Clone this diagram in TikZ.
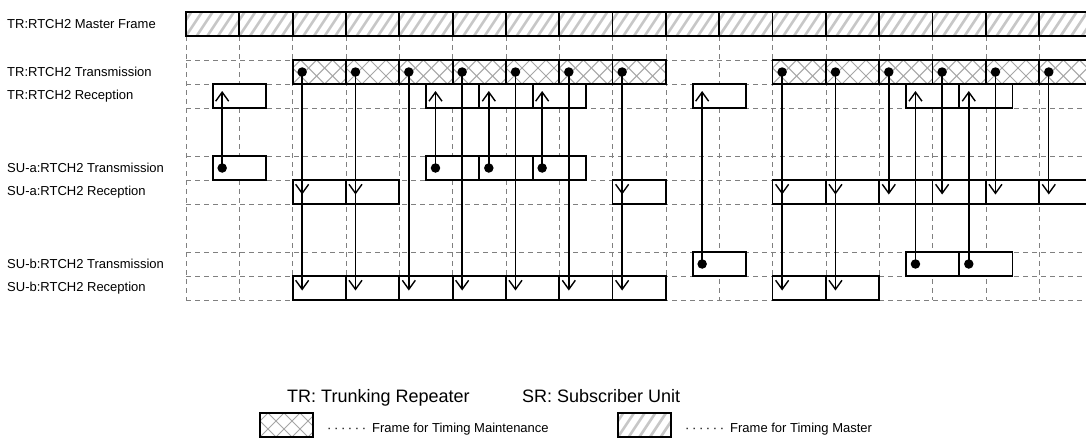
\documentclass[tikz,border=0pt]{standalone}
\usepackage{fontspec}
\setmainfont{Liberation Sans}
\usetikzlibrary{arrows.meta,calc}

\begin{document}
\begin{tikzpicture}[x=1pt, y=-1pt,
    cell/.style={
        rectangle, draw=black, line width=1.7pt, fill=white,
        minimum width=53.33pt, minimum height=24pt,
        inner sep=0pt, outer sep=0pt, anchor=north west
    },
    master/.style={cell, path picture={
        \foreach \i in {-2,...,6}
            \draw[line width=2.6pt, black!22]
                ($(path picture bounding box.south west)+(\i*10.67,0)$) -- ++(16,-24);
    }},
    maint/.style={cell, path picture={
        \foreach \i in {-2,...,5} {
            \draw[line width=1pt, black!35]
                ($(path picture bounding box.south west)+(\i*16,0)$) -- ++(24,-24);
            \draw[line width=1pt, black!35]
                ($(path picture bounding box.south west)+(\i*16,0)$) -- ++(-24,-24);
        }
    }},
    grid/.style={dash pattern=on 5pt off 4pt, line width=0.9pt, black!50},
    rowlabel/.style={anchor=base west, inner sep=0pt, font=\fontsize{13}{15}\selectfont},
    keytitle/.style={anchor=base west, inner sep=0pt, font=\fontsize{18}{20}\selectfont},
    keytext/.style={anchor=base west, inner sep=0pt, font=\fontsize{13}{15}\selectfont},
    dot/.style={circle, fill=black, inner sep=0pt, minimum size=9.5pt},
    link/.style={line width=1.4pt, -{Straight Barb[length=9pt,width=13pt,line width=1.4pt]}}
]
\useasboundingbox (0,0) rectangle (1086,439);
\clip (0,0) rectangle (1086,439);

% Timing grid
\foreach \c in {0,...,17}
    \draw[grid] (186+\c*53.33,36) -- (186+\c*53.33,300);
\foreach \y in {60,84,108,156,180,204,252,276,300}
    \draw[grid] (186,\y) -- (1086,\y);

% Master frame
\foreach \c in {0,...,16}
    \node[master] (mf-\c) at (186+\c*53.33,12) {};

% TR rows
\foreach \c in {2,3,4,5,6,7,8,11,12,13,14,15,16} {
    \node[maint] (trtx-\c) at (186+\c*53.33,60) {};
    \node[dot] (trd-\c) at ($(trtx-\c.west)+(9.5,0)$) {};
}
\foreach \c in {0,4,5,6,9,13,14}
    \node[cell] (trrx-\c) at (186+\c*53.33+26.67,84) {};

% SU-a rows
\foreach \c in {0,4,5,6} {
    \node[cell] (satx-\c) at (186+\c*53.33+26.67,156) {};
    \node[dot] (sad-\c) at ($(satx-\c.west)+(9.5,0)$) {};
}
\foreach \c in {2,3,8,11,12,13,14,15,16}
    \node[cell] (sarx-\c) at (186+\c*53.33,180) {};

% SU-b rows
\foreach \c in {9,13,14} {
    \node[cell] (sbtx-\c) at (186+\c*53.33+26.67,252) {};
    \node[dot] (sbd-\c) at ($(sbtx-\c.west)+(9.5,0)$) {};
}
\foreach \c in {2,3,4,5,6,7,8,11,12}
    \node[cell] (sbrx-\c) at (186+\c*53.33,276) {};

% Uplinks
\foreach \c in {0,4,5,6}
    \draw[link] (sad-\c.center) -- ($(trrx-\c.north west)+(9.5,7)$);
\foreach \c in {9,13,14}
    \draw[link] (sbd-\c.center) -- ($(trrx-\c.north west)+(9.5,7)$);

% Downlinks
\foreach \c in {2,3,8,11,12,13,14,15,16}
    \draw[link] (trd-\c.center) -- ($(sarx-\c.north west)+(9.5,14.5)$);
\foreach \c in {2,3,4,5,6,7,8,11,12}
    \draw[link] (trd-\c.center) -- ($(sbrx-\c.north west)+(9.5,14.5)$);

% Row labels
\node[rowlabel] (lb-mf) at (7,28.6) {TR:RTCH2 Master Frame};
\node[rowlabel] (lb-trtx) at (7,76.6) {TR:RTCH2 Transmission};
\node[rowlabel] (lb-trrx) at (7,99.6) {TR:RTCH2 Reception};
\node[rowlabel] (lb-satx) at (7,172.6) {SU-a:RTCH2 Transmission};
\node[rowlabel] (lb-sarx) at (7,195.6) {SU-a:RTCH2 Reception};
\node[rowlabel] (lb-sbtx) at (7,268.6) {SU-b:RTCH2 Transmission};
\node[rowlabel] (lb-sbrx) at (7,291.6) {SU-b:RTCH2 Reception};

% Legend
\node[keytitle] (key-tr) at (287,402) {TR: Trunking Repeater};
\node[keytitle] (key-su) at (522,402) {SR: Subscriber Unit};
\node[maint] (key-maint) at (260,413) {};
\node[keytext] (key-maint-txt) at (327,432)
    {{\addfontfeature{LetterSpace=20}······}\hspace{6pt}Frame for Timing Maintenance};
\node[master] (key-master) at (618,413) {};
\node[keytext] (key-master-txt) at (685,432)
    {{\addfontfeature{LetterSpace=20}······}\hspace{6pt}Frame for Timing Master};
\end{tikzpicture}
\end{document}
